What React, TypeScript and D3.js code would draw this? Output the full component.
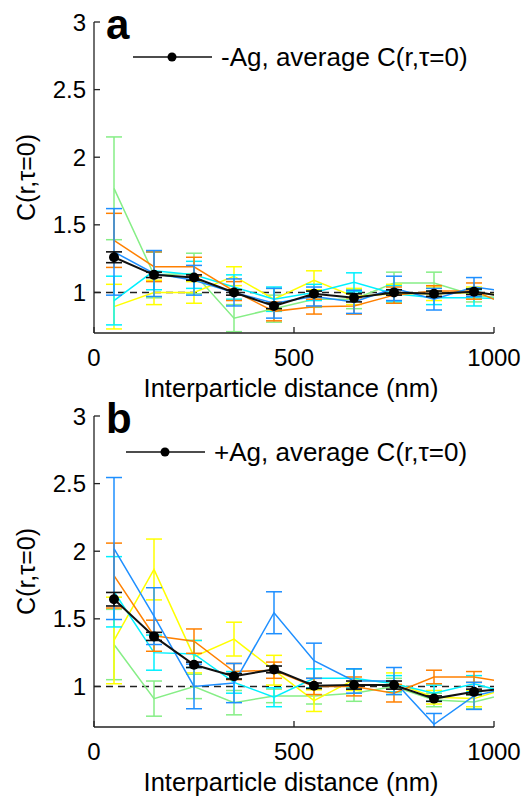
import React from "react";
import * as d3 from "d3";

const distances = [50, 150, 250, 350, 450, 550, 650, 750, 850, 950, 1050];

// Panel a (-Ag)
const blueA = [1.3, 1.14, 1.09, 1.0, 0.92, 0.97, 0.93, 1.03, 0.95, 1.04, 1.0];
const blueAErr = [0.32, 0.17, 0.11, 0.1, 0.11, 0.07, 0.085, 0.09, 0.08, 0.07, 0.07];
const orangeA = [1.385, 1.19, 1.19, 1.01, 0.86, 0.895, 0.9, 0.98, 1.01, 1.01, 0.89];
const orangeAErr = [0.2, 0.11, 0.07, 0.07, 0.07, 0.055, 0.06, 0.06, 0.04, 0.06, 0.06];
const greenA = [1.77, 1.13, 1.14, 0.81, 0.88, 0.95, 0.95, 1.07, 1.07, 0.98, 0.95];
const greenAErr = [0.38, 0.17, 0.15, 0.1, 0.1, 0.06, 0.07, 0.08, 0.08, 0.05, 0.05];
const cyanA = [0.94, 1.16, 1.13, 1.04, 0.95, 1.0, 1.075, 0.99, 0.96, 0.96, 0.95];
const cyanAErr = [0.18, 0.14, 0.1, 0.09, 0.09, 0.06, 0.07, 0.06, 0.05, 0.06, 0.06];
const yellowA = [0.895, 1.0, 1.0, 1.12, 0.95, 1.09, 0.97, 0.99, 0.99, 1.0, 0.97];
const yellowAErr = [0.165, 0.09, 0.08, 0.07, 0.08, 0.07, 0.06, 0.07, 0.05, 0.04, 0.04];
const avgA = [1.26, 1.13, 1.11, 1.0, 0.9, 0.99, 0.96, 1.0, 0.99, 1.005, 0.96];
const avgAErr = [0.04, 0.02, 0.02, 0.02, 0.02, 0.02, 0.03, 0.02, 0.02, 0.02, 0.02];

// Panel b (+Ag)
const blueB = [2.02, 1.52, 1.0, 1.025, 1.545, 1.19, 1.04, 1.04, 0.72, 0.93, 1.0];
const blueBErr = [0.525, 0.21, 0.165, 0.145, 0.155, 0.13, 0.09, 0.1, 0.08, 0.1, 0.1];
const orangeB = [1.82, 1.375, 1.335, 1.11, 1.12, 1.0, 1.0, 0.95, 1.07, 1.07, 1.02];
const orangeBErr = [0.24, 0.115, 0.09, 0.06, 0.06, 0.06, 0.07, 0.065, 0.05, 0.04, 0.05];
const greenB = [1.31, 0.91, 1.0, 0.88, 0.93, 0.93, 0.95, 1.0, 0.9, 0.885, 0.96];
const greenBErr = [0.26, 0.13, 0.09, 0.09, 0.05, 0.06, 0.06, 0.06, 0.05, 0.05, 0.05];
const cyanB = [1.7, 1.25, 1.24, 1.03, 0.92, 1.06, 1.06, 1.02, 0.95, 1.02, 0.94];
const cyanBErr = [0.26, 0.13, 0.1, 0.08, 0.07, 0.07, 0.07, 0.06, 0.06, 0.06, 0.06];
const yellowB = [1.34, 1.865, 1.22, 1.35, 1.12, 0.895, 1.05, 1.03, 0.92, 0.91, 1.0];
const yellowBErr = [0.32, 0.225, 0.12, 0.125, 0.11, 0.08, 0.08, 0.07, 0.05, 0.06, 0.06];
const avgB = [1.645, 1.37, 1.16, 1.075, 1.126, 1.005, 1.01, 1.01, 0.91, 0.96, 0.99];
const avgBErr = [0.05, 0.03, 0.02, 0.02, 0.025, 0.02, 0.03, 0.03, 0.02, 0.02, 0.02];

const xTicks = [0, 500, 1000];
const yTicks = [1, 1.5, 2, 2.5, 3];
const yTickLabels = ["1", "1.5", "2", "2.5", "3"];
const xTitle = "Interparticle distance (nm)";
const yTitle = "C(r,\u03c4=0)";
const legendA = "-Ag, average C(r,\u03c4=0)";
const legendB = "+Ag, average C(r,\u03c4=0)";

const COLORS = {
  blue: "#1e8fff",
  orange: "#ff8000",
  green: "#86ee86",
  cyan: "#00f0ff",
  yellow: "#ffff00",
};

const FONT = "'Liberation Sans', Arial, Helvetica, sans-serif";

type Series = { mean: number[]; err: number[]; color: string };

const X0 = 94;
const X1 = 494;

function Panel({
  id,
  top,
  bottom,
  series,
  avg,
  avgErr,
  letter,
  legend,
  legendY,
  legendX,
}: {
  id: string;
  top: number;
  bottom: number;
  series: Series[];
  avg: number[];
  avgErr: number[];
  letter: string;
  legend: string;
  legendY: number;
  legendX: number;
}) {
  const x = d3.scaleLinear().domain([0, 1000]).range([X0, X1]);
  const y = d3.scaleLinear().domain([0.7, 3]).range([bottom, top]);
  const line = d3
    .line<number>()
    .x((_, i) => x(distances[i]))
    .y((d) => y(d));
  const cap = 8;
  const renderErr = (mean: number[], err: number[], color: string, w: number) =>
    mean.map((m, i) => {
      const cx = x(distances[i]);
      const yt = y(m + err[i]);
      const yb = y(m - err[i]);
      return (
        <g key={i} stroke={color} strokeWidth={w} fill="none">
          <line x1={cx} x2={cx} y1={yt} y2={yb} />
          <line x1={cx - cap} x2={cx + cap} y1={yt} y2={yt} />
          <line x1={cx - cap} x2={cx + cap} y1={yb} y2={yb} />
        </g>
      );
    });
  const midY = (top + bottom) / 2;
  return (
    <g>
      <defs>
        <clipPath id={id}>
          <rect x={X0} y={top} width={X1 - X0} height={bottom - top} />
        </clipPath>
      </defs>
      <g clipPath={`url(#${id})`}>
        <line
          x1={x(0)}
          x2={x(1000)}
          y1={y(1)}
          y2={y(1)}
          stroke="#222"
          strokeWidth={1.6}
          strokeDasharray="7,5"
        />
        {series.map((s, k) => (
          <g key={k}>
            <path d={line(s.mean) || ""} fill="none" stroke={s.color} strokeWidth={1.5} />
            {renderErr(s.mean, s.err, s.color, 1.5)}
          </g>
        ))}
        <path d={line(avg) || ""} fill="none" stroke="#111" strokeWidth={2} />
        {renderErr(avg, avgErr, "#111", 1.6)}
        {avg.map((m, i) => (
          <circle key={i} cx={x(distances[i])} cy={y(m)} r={5} fill="#000" />
        ))}
      </g>
      {/* axes */}
      <g stroke="#222" strokeWidth={1.3} fill="none">
        <line x1={X0} x2={X0} y1={top} y2={bottom} />
        <line x1={X0} x2={X1} y1={bottom} y2={bottom} />
        {yTicks.map((t) => (
          <line key={t} x1={X0} x2={X0 + 6} y1={y(t)} y2={y(t)} />
        ))}
        {xTicks.map((t) => (
          <line key={t} x1={x(t)} x2={x(t)} y1={bottom} y2={bottom - 6} />
        ))}
      </g>
      <g fontFamily={FONT} fontSize={24} fill="#000">
        {yTicks.map((t, i) => (
          <text key={t} x={X0 - 8} y={y(t)} textAnchor="end" dominantBaseline="central">
            {yTickLabels[i]}
          </text>
        ))}
        {xTicks.map((t) => (
          <text key={t} x={x(t)} y={bottom + 33} textAnchor="middle">
            {t}
          </text>
        ))}
      </g>
      <text
        x={(X0 + X1) / 2 - 3}
        y={bottom + 64}
        textAnchor="middle"
        fontFamily={FONT}
        fontSize={25.5}
      >
        {xTitle}
      </text>
      <text
        transform={`translate(35,${midY}) rotate(-90)`}
        textAnchor="middle"
        fontFamily={FONT}
        fontSize={25}
      >
        {yTitle}
      </text>
      <text x={106} y={top + 17} fontFamily={FONT} fontSize={42} fontWeight="bold">
        {letter}
      </text>
      <line x1={legendX} x2={legendX + 79} y1={legendY} y2={legendY} stroke="#111" strokeWidth={1.5} />
      <circle cx={legendX + 39} cy={legendY} r={4.5} fill="#000" />
      <text x={legendX + 88} y={legendY + 9} fontFamily={FONT} fontSize={26}>
        {legend}
      </text>
    </g>
  );
}

export default function App() {
  const seriesA: Series[] = [
    { mean: greenA, err: greenAErr, color: COLORS.green },
    { mean: yellowA, err: yellowAErr, color: COLORS.yellow },
    { mean: cyanA, err: cyanAErr, color: COLORS.cyan },
    { mean: orangeA, err: orangeAErr, color: COLORS.orange },
    { mean: blueA, err: blueAErr, color: COLORS.blue },
  ];
  const seriesB: Series[] = [
    { mean: greenB, err: greenBErr, color: COLORS.green },
    { mean: yellowB, err: yellowBErr, color: COLORS.yellow },
    { mean: cyanB, err: cyanBErr, color: COLORS.cyan },
    { mean: orangeB, err: orangeBErr, color: COLORS.orange },
    { mean: blueB, err: blueBErr, color: COLORS.blue },
  ];
  return (
    <svg
      width={529}
      height={798}
      style={{ position: "absolute", left: 0, top: 0, background: "#fff" }}
    >
      <rect width={529} height={798} fill="#fff" />
      <Panel
        id="clipA"
        top={22}
        bottom={333}
        series={seriesA}
        avg={avgA}
        avgErr={avgAErr}
        letter="a"
        legend={legendA}
        legendX={133}
        legendY={57}
      />
      <Panel
        id="clipB"
        top={416}
        bottom={727}
        series={seriesB}
        avg={avgB}
        avgErr={avgBErr}
        letter="b"
        legend={legendB}
        legendX={126}
        legendY={452}
      />
    </svg>
  );
}
